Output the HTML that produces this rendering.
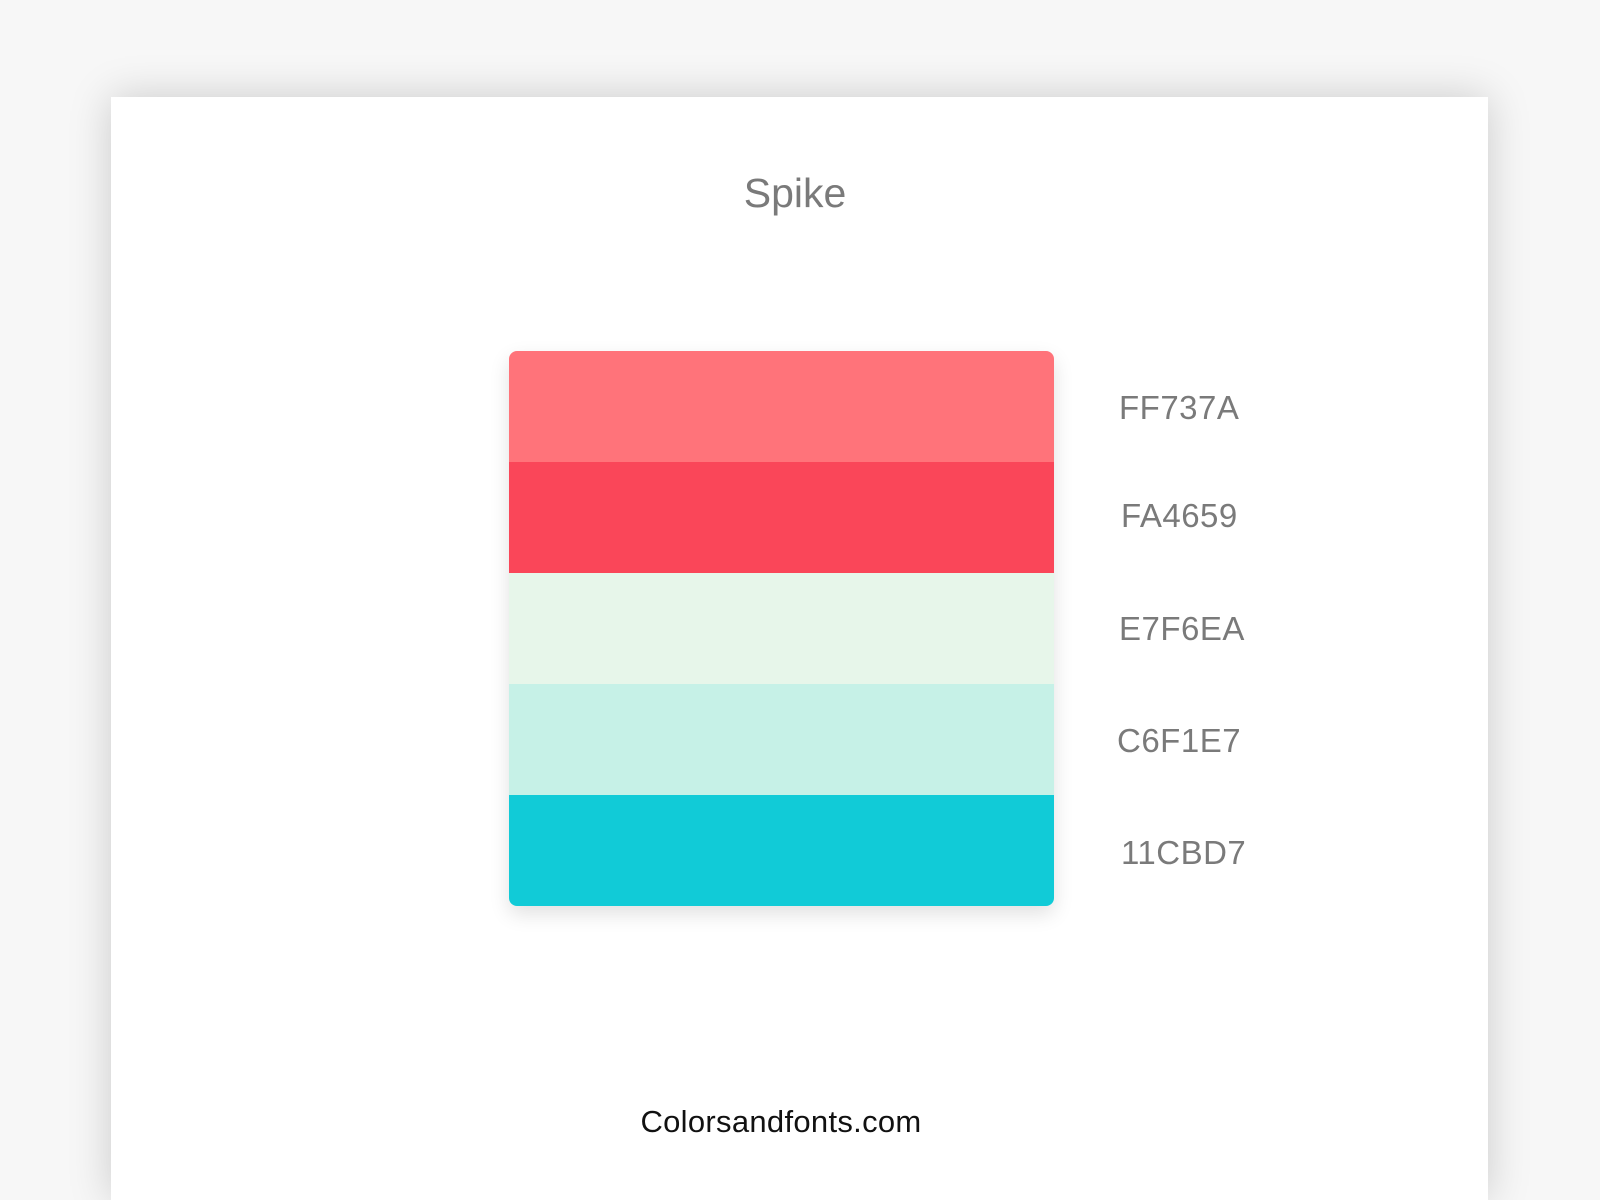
<!DOCTYPE html>
<html><head><meta charset="utf-8"><style>
html,body{margin:0;padding:0;width:1600px;height:1200px;overflow:hidden;background:#f7f7f7;font-family:"Liberation Sans",sans-serif;position:relative}
.card{position:absolute;left:111px;top:97px;width:1377px;height:1103px;background:#fff;box-shadow:0 0 40px rgba(0,0,0,0.18)}
.title{position:absolute;left:0;width:1590px;top:170px;text-align:center;font-size:41px;color:#7a7a7a}
.sw{position:absolute;left:509px;top:351px;width:545px;height:555px;border-radius:8px;overflow:hidden;box-shadow:0 8px 20px rgba(0,0,0,0.12)}
.sw div{height:111px}
.lab{position:absolute;left:1119px;font-size:33px;color:#7a7a7a;letter-spacing:0.5px}
.foot{position:absolute;left:0;width:1562px;top:1104px;text-align:center;font-size:31px;color:#111;letter-spacing:0.3px}
</style></head><body>
<div class="card"></div>
<div class="title">Spike</div>
<div class="sw">
<div style="background:#FF737A"></div>
<div style="background:#FA4659"></div>
<div style="background:#E7F6EA"></div>
<div style="background:#C6F1E7"></div>
<div style="background:#11CBD7"></div>
</div>
<div class="lab" style="top:389px">FF737A</div>
<div class="lab" style="top:497px;left:1121px">FA4659</div>
<div class="lab" style="top:610px">E7F6EA</div>
<div class="lab" style="top:722px;left:1117px">C6F1E7</div>
<div class="lab" style="top:834px;left:1121px">11CBD7</div>
<div class="foot">Colorsandfonts.com</div>
</body></html>
